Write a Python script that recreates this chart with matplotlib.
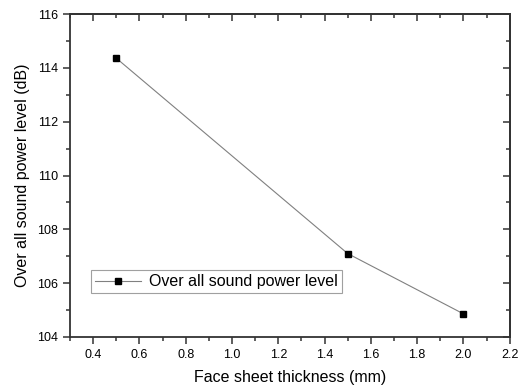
import numpy as np
import matplotlib.pyplot as plt
from matplotlib.ticker import MultipleLocator

plt.rcParams.update({'font.family': ['Liberation Sans', 'DejaVu Sans'], 'font.size': 10})

# Podatki z grafa
thickness = [0.5, 1.5, 2.0]
power_level = [114.36, 107.1, 104.86]
label = 'Over all sound power level'

fig = plt.figure(figsize=(5.24, 3.9), dpi=100)
ax = fig.add_axes([0.1336, 0.136, 0.839, 0.828])

ax.plot(thickness, power_level, color='#808080', linewidth=0.8,
        marker='s', markersize=5, markerfacecolor='black', markeredgecolor='black',
        label=label)

ax.set_xlim(0.3, 2.2)
ax.set_ylim(104, 116)
ax.xaxis.set_major_locator(MultipleLocator(0.2))
ax.xaxis.set_minor_locator(MultipleLocator(0.1))
ax.yaxis.set_major_locator(MultipleLocator(2))
ax.yaxis.set_minor_locator(MultipleLocator(1))
ax.xaxis.set_major_formatter(plt.FuncFormatter(lambda v, p: f'{v:.1f}'))

for s in ax.spines.values():
    s.set_linewidth(1.3)
    s.set_color('#333333')

ax.tick_params(which='both', direction='out', color='#333333', width=1.1, labelsize=9)
ax.tick_params(which='major', length=5)
ax.tick_params(which='minor', length=3)

# Zrcalni ticki na vrhu in desno (kazejo navznoter)
top = ax.secondary_xaxis('top')
top.xaxis.set_major_locator(MultipleLocator(0.2))
top.xaxis.set_minor_locator(MultipleLocator(0.1))
top.tick_params(which='both', direction='in', labeltop=False, color='#333333', width=1.1)
top.tick_params(which='major', length=5)
top.tick_params(which='minor', length=3)
top.spines['top'].set_linewidth(1.3)
top.spines['top'].set_color('#333333')

right = ax.secondary_yaxis('right')
right.yaxis.set_major_locator(MultipleLocator(2))
right.yaxis.set_minor_locator(MultipleLocator(1))
right.tick_params(which='both', direction='in', labelright=False, color='#333333', width=1.1)
right.tick_params(which='major', length=5)
right.tick_params(which='minor', length=3)
right.spines['right'].set_linewidth(1.3)
right.spines['right'].set_color('#333333')

ax.set_xlabel('Face sheet thickness (mm)', fontsize=11.5, labelpad=7)
ax.set_ylabel('Over all sound power level (dB)', fontsize=11.5, labelpad=5)

leg = ax.legend(loc='lower left', bbox_to_anchor=(0.03, 0.11), fontsize=11.5,
                fancybox=False, edgecolor='#a0a0a0', framealpha=1,
                handlelength=2.9, borderpad=0.25, handletextpad=0.5)
leg.get_frame().set_linewidth(0.8)

fig.savefig('out.png', dpi=100)
